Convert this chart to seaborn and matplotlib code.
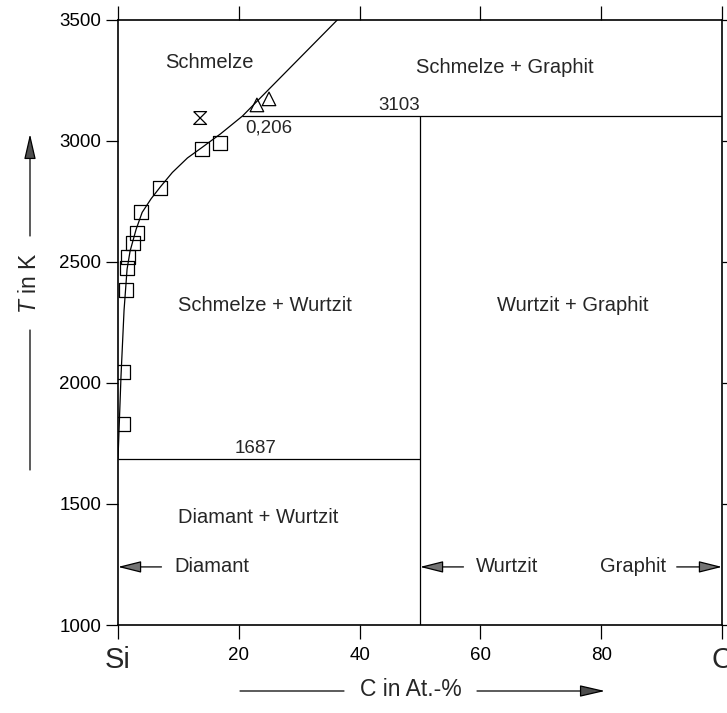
import numpy as np
import pandas as pd
import matplotlib
matplotlib.use("Agg")
import matplotlib.pyplot as plt
import seaborn as sns

# --- Liquidus curve (C in At.-%, T in K) ---
liq_x = [0.0, 0.5, 1.0, 1.5, 2.0, 3.0, 4.0, 5.5, 7.0, 9.0, 11.5, 14.0, 17.0, 20.6, 36.3]
liq_T = [1687, 2030, 2300, 2470, 2545, 2635, 2705, 2762, 2810, 2870, 2930, 2975, 3030, 3103, 3500]

# --- Measured points ---
sq_x = [0.8, 0.8, 1.3, 1.5, 1.7, 2.5, 3.1, 3.8, 7.0, 13.9, 16.9]
sq_T = [1830, 2045, 2384, 2475, 2521, 2579, 2620, 2707, 2806, 2967, 2992]
tri_x = [23.0, 25.0]
tri_T = [3149, 3174]
hg_x = [13.6]
hg_T = [3095]

# --- Invariant lines ---
T_peritektisch = 3103
x_peritektisch = 20.6
T_Si = 1687
x_SiC = 50

# --- Region labels ---
region_text = ["Schmelze", "Schmelze + Graphit", "Schmelze + Wurtzit",
               "Wurtzit + Graphit", "Diamant + Wurtzit"]
region_x = [15.2, 64.0, 24.3, 75.3, 23.2]
region_T = [3326, 3302, 2322, 2322, 1446]

x_ticks = [0, 20, 40, 60, 80, 100]
x_ticklabels = ["", "20", "40", "60", "80", ""]
y_ticks = [1000, 1500, 2000, 2500, 3000, 3500]

sns.set_theme(style="ticks")
plt.rcParams["font.family"] = ["Liberation Sans", "DejaVu Sans"]
plt.rcParams["mathtext.fontset"] = "custom"
plt.rcParams["mathtext.rm"] = "Liberation Sans"
plt.rcParams["mathtext.it"] = "Liberation Sans:italic"

fig = plt.figure(figsize=(7.27, 7.13), dpi=100)
ax = fig.add_axes([118 / 727, 1 - 625 / 713, (722 - 118) / 727, (625 - 20) / 713])

lw = 0.9
liq = pd.DataFrame({"x": liq_x, "T": liq_T})
sns.lineplot(data=liq, x="x", y="T", sort=False, color="black", lw=lw, ax=ax)

# invariant lines
ax.hlines(T_peritektisch, x_peritektisch, 100, color="black", lw=lw)
ax.vlines(x_SiC, 1000, T_peritektisch, color="black", lw=lw)
ax.hlines(T_Si, 0, x_SiC, color="black", lw=lw)

# measured points
sns.scatterplot(x=sq_x, y=sq_T, marker="s", s=100, facecolors="none",
                edgecolor="black", linewidth=0.9, ax=ax, zorder=3)
sns.scatterplot(x=tri_x, y=tri_T, marker="^", s=95, facecolors="none",
                edgecolor="black", linewidth=0.9, ax=ax, zorder=3)
hourglass = [(-1, 1), (1, 1), (-1, -1), (1, -1), (-1, 1)]
sns.scatterplot(x=hg_x, y=hg_T, marker=hourglass, s=85, facecolors="none",
                edgecolor="black", linewidth=0.9, ax=ax, zorder=3)

fs = 14.5
for t, xx, yy in zip(region_text, region_x, region_T):
    ax.text(xx, yy, t, ha="center", va="center", fontsize=fs)

fsn = 13.5
ax.text(x_peritektisch + 0.4, 3054, "0,206", ha="left", va="center", fontsize=fsn)
ax.text(46.6, T_peritektisch + 8, "3103", ha="center", va="bottom", fontsize=fsn)
ax.text(22.7, T_Si + 8, "1687", ha="center", va="bottom", fontsize=fsn)

# solid phase markers with arrows
arrow_T = 1240
ap = dict(arrowstyle="-|>,head_length=1.2,head_width=0.3", lw=0.9,
          ec="black", fc="0.45", shrinkA=0, shrinkB=0)
ax.annotate("", xy=(0, arrow_T), xytext=(7.2, arrow_T), arrowprops=ap)
ax.text(9.4, arrow_T, "Diamant", ha="left", va="center", fontsize=fs)
ax.annotate("", xy=(x_SiC, arrow_T), xytext=(57.2, arrow_T), arrowprops=ap)
ax.text(59.2, arrow_T, "Wurtzit", ha="left", va="center", fontsize=fs)
ax.annotate("", xy=(100, arrow_T), xytext=(92.5, arrow_T), arrowprops=ap)
ax.text(90.7, arrow_T, "Graphit", ha="right", va="center", fontsize=fs)

ax.set_xlim(0, 100)
ax.set_ylim(1000, 3500)
ax.set_xticks(x_ticks)
ax.set_xticklabels(x_ticklabels)
ax.set_yticks(y_ticks)
ax.set_xlabel("")
ax.set_ylabel("")
for s in ax.spines.values():
    s.set_visible(True)
    s.set_linewidth(1.2)
    s.set_color("black")
ax.tick_params(axis="x", which="both", direction="out", length=10, width=0.9,
               labelsize=13.5, pad=6, top=True, bottom=True, labeltop=False, colors="black")
ax.tick_params(axis="y", which="both", direction="out", length=9, width=0.9,
               labelsize=13.5, pad=3, left=True, right=True, labelright=False, colors="black")

# element labels at the axis ends
ax.text(0, -0.058, "Si", transform=ax.get_xaxis_transform(), ha="center",
        va="center", fontsize=21)
ax.text(100, -0.058, "C", transform=ax.get_xaxis_transform(), ha="center",
        va="center", fontsize=21)

# axis titles with arrows
fig.text(30, 713 - 283, r"$T$ in K", rotation=90, ha="center", va="center",
         fontsize=16.5, transform=None)
lp = dict(arrowstyle="-", lw=0.9, color="black", shrinkA=0, shrinkB=0)
apf = dict(arrowstyle="-|>,head_length=1.3,head_width=0.3", lw=0.9,
           ec="black", fc="0.3", shrinkA=0, shrinkB=0)
ax.annotate("", xy=(30, 713 - 134), xytext=(30, 713 - 236),
            xycoords="figure pixels", textcoords="figure pixels", arrowprops=apf)
ax.annotate("", xy=(30, 713 - 330), xytext=(30, 713 - 470),
            xycoords="figure pixels", textcoords="figure pixels", arrowprops=lp)

fig.text(411, 713 - 690, "C in At.-%", ha="center", va="center",
         fontsize=16.5, transform=None)
ax.annotate("", xy=(240, 713 - 691), xytext=(344, 713 - 691),
            xycoords="figure pixels", textcoords="figure pixels", arrowprops=lp)
ax.annotate("", xy=(605, 713 - 691), xytext=(477, 713 - 691),
            xycoords="figure pixels", textcoords="figure pixels", arrowprops=apf)

fig.savefig("out.png", dpi=100, facecolor="white")
